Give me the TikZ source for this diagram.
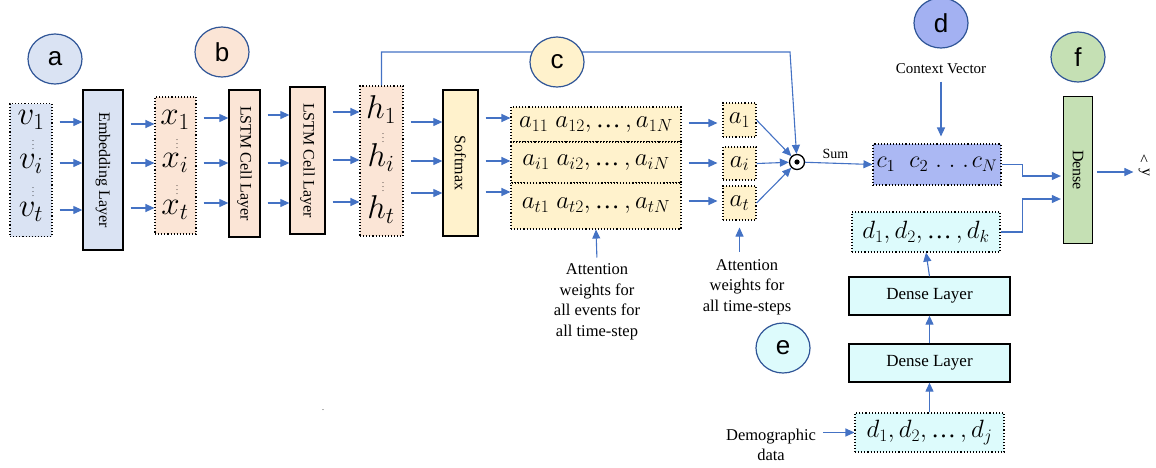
\RequirePackage{fix-cm}
\documentclass[tikz,border=0pt]{standalone}
\usepackage{amsmath,amssymb}
\usepackage{fontspec}
\setmainfont{Liberation Serif}
\newfontfamily\tagfont{Liberation Sans}
\usetikzlibrary{positioning,arrows.meta,calc,shapes.geometric}
\definecolor{ArrowBlue}{HTML}{4472C4}
\definecolor{TagLine}{HTML}{2F5597}
\definecolor{InBlue}{HTML}{DAE3F3}
\definecolor{Peach}{HTML}{FBE5D6}
\definecolor{Cream}{HTML}{FFF2CC}
\definecolor{Periwinkle}{HTML}{ABB8F3}
\definecolor{TagD}{HTML}{A3B1F2}
\definecolor{Leaf}{HTML}{C5E0B4}
\definecolor{Ice}{HTML}{DDFBFC}
\newcommand{\Var}{\fontsize{33}{33}\selectfont}
\newcommand{\Row}{\fontsize{25}{25}\selectfont}
\newcommand{\Note}{\fontsize{16.5}{20.5}\selectfont}
\newcommand{\Dots}{\mathinner{\text{…}}}
\tikzset{
  layer/.style={draw=black, line width=1.3pt, inner sep=0pt,
                font=\fontsize{16}{18}\selectfont},
  vecbox/.style={draw=black, dotted, line width=1.1pt, inner sep=0pt},
  tag/.style={ellipse, draw=TagLine, line width=1.2pt, minimum width=54pt,
              minimum height=50pt, inner sep=0pt,
              font=\tagfont\fontsize{26}{26}\selectfont},
  flow/.style={-{Triangle[length=9pt,width=8pt]}, line width=1.1pt, ArrowBlue},
  gapflow/.style={flow, shorten <=7pt},
  var/.style={inner sep=0pt, font=\Var},
  vdot/.style={inner sep=0pt, font=\fontsize{8}{8}\selectfont},
}

\begin{document}
\begin{tikzpicture}[x=1pt, y=-1pt]
  \useasboundingbox (0,0) rectangle (1156,467);

  % inputs and embedding
  \node[vecbox, fill=InBlue, minimum width=42pt, minimum height=133pt] (vbox) at (31,170) {};
  \node[var] (v1) at (31,120) {$v_1$};
  \node[var] (vi) at (31,164) {$v_i$};
  \node[var] (vt) at (31,212) {$v_t$};
  \node[vdot] (vd1) at (33,142) {$\vdots$};
  \node[vdot] (vd2) at (33,189) {$\vdots$};
  \node[layer, fill=InBlue, minimum width=40pt, minimum height=160pt] (emb) at (103,170)
    {\rotatebox{-90}{Embedding Layer}};

  \node[vecbox, fill=Peach, minimum width=41pt, minimum height=137pt] (xbox) at (175.5,165.5) {};
  \node[var] (x1) at (175,120) {$x_1$};
  \node[var] (xi) at (175,163) {$x_i$};
  \node[var] (xt) at (175,210) {$x_t$};
  \node[vdot] (xd1) at (177,141) {$\vdots$};
  \node[vdot] (xd2) at (177,187) {$\vdots$};

  % lstm stack
  \node[layer, fill=Peach, minimum width=31pt, minimum height=147pt] (ls1) at (244.5,163.5)
    {\rotatebox{-90}{LSTM Cell Layer}};
  \node[layer, fill=Peach, minimum width=35pt, minimum height=147pt] (ls2) at (307.5,160.5)
    {\rotatebox{-90}{LSTM Cell Layer}};

  \node[vecbox, fill=Peach, minimum width=43pt, minimum height=150pt] (hbox) at (381.5,161) {};
  \node[var] (h1) at (381,110) {$h_1$};
  \node[var] (hi) at (381,158) {$h_i$};
  \node[var] (ht) at (381,210) {$h_t$};
  \node[vdot] (hd1) at (383,135) {$\vdots$};
  \node[vdot] (hd2) at (383,184) {$\vdots$};

  % attention
  \node[layer, fill=Cream, minimum width=35pt, minimum height=146pt] (soft) at (460.5,163)
    {\rotatebox{-90}{Softmax}};
  \node[vecbox, fill=Cream, minimum width=170pt, minimum height=35pt, font=\Row] (m1) at (596,124.5)
    {$a_{11}\;a_{12},\Dots,a_{1N}$};
  \node[vecbox, fill=Cream, minimum width=170pt, minimum height=41pt, font=\Row] (mi) at (596,162.5)
    {$a_{i1}\;a_{i2},\Dots,a_{iN}$};
  \node[vecbox, fill=Cream, minimum width=170pt, minimum height=46pt, font=\Row] (mt) at (596,206)
    {$a_{t1}\;a_{t2},\Dots,a_{tN}$};
  \node[vecbox, fill=Cream, minimum width=33pt, minimum height=34pt, font=\Row] (aw1) at (739.5,120) {$a_1$};
  \node[vecbox, fill=Cream, minimum width=33pt, minimum height=33pt, font=\Row] (awi) at (739.5,163.5) {$a_i$};
  \node[vecbox, fill=Cream, minimum width=33pt, minimum height=34pt, font=\Row] (awt) at (739.5,203) {$a_t$};
  \node[circle, draw=black, line width=1.3pt, fill=white, minimum size=15pt, inner sep=0pt,
        path picture={\fill[black] (path picture bounding box.center) circle (2.6pt);}] (dot) at (797,162) {};

  \node[align=center, font=\Note] (attnall) at (597,302)
    {Attention\\weights for\\all events for\\all time-step};
  \node[align=center, font=\Note] (attnstep) at (747,287)
    {Attention\\weights for\\all time-steps};

  % context and demographics
  \node[vecbox, fill=Periwinkle, minimum width=128pt, minimum height=41pt, font=\fontsize{24}{24}\selectfont] (cbox) at (937,164.5)
    {$c_1\hspace{14pt}c_2\hspace{7pt}.\hspace{7pt}.\hspace{7pt}.\hspace{3pt}c_N$};
  \node[font=\fontsize{15}{17}\selectfont] (ctx) at (941,69) {Context Vector};
  \node[vecbox, fill=Ice, minimum width=148pt, minimum height=40pt, font=\Row] (dk) at (926,232)
    {$d_1,d_2,\Dots,d_k$};
  \node[layer, fill=Ice, minimum width=161pt, minimum height=38pt, font=\fontsize{17}{19}\selectfont] (dl1) at (929.5,296)
    {Dense Layer};
  \node[layer, fill=Ice, minimum width=161pt, minimum height=38pt, font=\fontsize{17}{19}\selectfont] (dl2) at (929.5,363)
    {Dense Layer};
  \node[vecbox, fill=Ice, minimum width=149pt, minimum height=39pt, font=\Row] (dj) at (929.5,432.5)
    {$d_1,d_2,\Dots,d_j$};
  \node[align=center, font=\Note] (demo) at (771,445) {Demographic\\data};

  % output
  \node[layer, fill=Leaf, minimum width=29pt, minimum height=147pt] (dense) at (1078,170)
    {\rotatebox{-90}{Dense}};
  \node[inner sep=1pt, font=\fontsize{16}{16}\selectfont] (yhat) at (1144,172)
    {\rotatebox{-90}{y}};
  \node[inner sep=0pt, font=\fontsize{16}{16}\selectfont] (hat) at (1144,160) {\textasciicircum};
  \node[font=\fontsize{8}{8}\selectfont] (stray) at (323,410) {.};

  % connectors
  \foreach \yy in {122,163,210} \draw[gapflow] (vbox.east |- 0,\yy) -- (emb.west |- 0,\yy);
  \foreach \yy in {124,163,208} \draw[gapflow] (emb.east |- 0,\yy) -- (xbox.west |- 0,\yy);
  \foreach \yy in {118,163,203} \draw[gapflow] (xbox.east |- 0,\yy) -- (ls1.west |- 0,\yy);
  \foreach \yy in {115,163,203} \draw[gapflow] (ls1.east |- 0,\yy) -- (ls2.west |- 0,\yy);
  \foreach \yy in {112,160,202} \draw[gapflow] (ls2.east |- 0,\yy) -- (hbox.west |- 0,\yy);
  \foreach \yy in {122,161,193} \draw[gapflow] (hbox.east |- 0,\yy) -- (soft.west |- 0,\yy);
  \foreach \yy in {118,161,192} \draw[gapflow] (soft.east |- 0,\yy) -- (mi.west |- 0,\yy);
  \foreach \yy in {123,163,201} \draw[gapflow, shorten >=5pt] (mi.east |- 0,\yy) -- (aw1.west |- 0,\yy);
  \draw[flow] (aw1.east) -- (dot);
  \draw[flow] (awi.east) -- (dot);
  \draw[flow] (awt.east) -- (dot);
  \coordinate (topr) at (790,52);
  \draw[flow] (hbox.north) |- (topr) -- (dot);
  \draw[flow] (dot) -- node[above=1pt, pos=0.45, black, font=\fontsize{14}{16}\selectfont] (sum) {Sum} (cbox.west);
  \draw[flow, shorten <=3pt] (attnall.north) -- (mt.south);
  \draw[flow, shorten <=4pt, shorten >=7pt] (awt.south |- attnstep.north) -- (awt.south);
  \draw[flow, shorten <=4pt, shorten >=7pt] (ctx.south) -- (cbox.north -| ctx.south);
  \draw[flow, shorten <=4pt] (demo.east |- dj.west) -- (dj.west);
  \draw[flow] (dj.north) -- (dl2.south);
  \draw[flow] (dl2.north) -- (dl1.south);
  \draw[flow] (dl1.north) -- (dk.south);
  \draw[flow, shorten >=2pt] (cbox.east) -- ++(21,0) |- ([yshift=-6pt]dense.west);
  \draw[flow, shorten >=2pt] (dk.east) -- ++(22,0) |- ([yshift=-29pt]dense.west);
  \draw[flow, shorten <=4pt, shorten >=4pt] (dense.east |- yhat) -- (yhat.west);

  % tags
  \node[tag, fill=InBlue] (ta) at (55,59) {a};
  \node[tag, fill=Peach] (tb) at (222,52) {b};
  \node[tag, fill=Cream] (tc) at (557,62) {c};
  \node[tag, fill=TagD] (td) at (941,23) {d};
  \node[tag, fill=Ice] (te) at (783,348) {e};
  \node[tag, fill=Leaf] (tf) at (1078,57) {f};
\end{tikzpicture}
\end{document}
